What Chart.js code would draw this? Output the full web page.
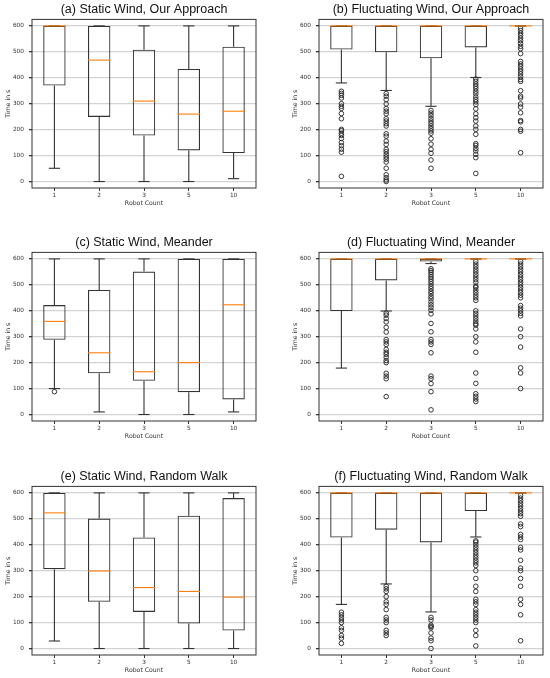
<!DOCTYPE html>
<html>
<head>
<meta charset="utf-8">
<script src="https://cdn.jsdelivr.net/npm/chart.js@4.4.1/dist/chart.umd.min.js"></script>
<style>
  body { margin: 0; background: #fff; }
  #page { position: relative; width: 550px; height: 678px; }
  canvas { position: absolute; }
</style>
</head>
<body>
<div id="page">
  <canvas id="c1" width="263" height="211" style="left:0px;top:0px"></canvas>
  <canvas id="c2" width="263" height="211" style="left:287px;top:0px"></canvas>
  <canvas id="c3" width="263" height="211" style="left:0px;top:233px"></canvas>
  <canvas id="c4" width="263" height="211" style="left:287px;top:233px"></canvas>
  <canvas id="c5" width="263" height="211" style="left:0px;top:467px"></canvas>
  <canvas id="c6" width="263" height="211" style="left:287px;top:467px"></canvas>
</div>
<script>
var robotCounts = ['1', '2', '3', '5', '10'];
var yTicks = [0, 100, 200, 300, 400, 500, 600];
var panelTitles = [
    '(a) Static Wind, Our Approach',
    '(b) Fluctuating Wind, Our Approach',
    '(c) Static Wind, Meander',
    '(d) Fluctuating Wind, Meander',
    '(e) Static Wind, Random Walk',
    '(f) Fluctuating Wind, Random Walk'
];

// [untere Antenne, Q1, Median, Q3, obere Antenne] pro Roboteranzahl
var staticOurs = [[51, 370, 600, 600, 600], [0, 249, 468, 600, 600], [0, 177, 310, 508, 600], [0, 120, 260, 434, 600], [11, 110, 271, 520, 600]];
var staticOursOut = [[], [], [], [], []];

var fluctOurs = [[380, 509, 600, 600, 600], [351, 498, 600, 600, 600], [290, 475, 600, 600, 600], [401, 517, 600, 600, 600], [600, 600, 600, 600, 600]];
var fluctOursOut = [
    [348, 340, 332, 322, 300, 290, 282, 262, 242, 201, 196, 186, 178, 166, 150, 138, 125, 113, 20],
    [339, 329, 316, 299, 281, 271, 261, 242, 233, 223, 214, 184, 175, 156, 143, 124, 115, 105, 95, 86, 75, 51, 26, 15, 6, 0],
    [274, 264, 254, 243, 233, 224, 214, 204, 195, 186, 165, 144, 124, 109, 83, 51],
    [395, 386, 376, 367, 358, 348, 338, 326, 316, 307, 297, 280, 261, 246, 233, 214, 201, 182, 146, 139, 128, 118, 105, 92, 31],
    [591, 582, 572, 563, 553, 543, 532, 521, 512, 493, 463, 453, 444, 434, 425, 415, 404, 393, 386, 350, 329, 322, 299, 287, 265, 235, 230, 201, 194, 111]
];

var staticMeander = [[100, 288, 359, 422, 600], [10, 159, 238, 480, 600], [0, 130, 165, 551, 600], [0, 86, 200, 600, 600], [10, 58, 423, 600, 600]];
var staticMeanderOut = [[88], [], [], [], []];

var fluctMeander = [[179, 399, 600, 600, 600], [399, 517, 600, 600, 600], [582, 590, 600, 600, 600], [600, 600, 600, 600, 600], [600, 600, 600, 600, 600]];
var fluctMeanderOut = [
    [],
    [391, 383, 370, 357, 336, 318, 289, 280, 270, 251, 240, 232, 221, 208, 200, 159, 148, 138, 69],
    [562, 555, 548, 539, 530, 522, 513, 504, 494, 485, 475, 466, 455, 446, 434, 423, 413, 402, 388, 351, 319, 289, 280, 270, 238, 148, 138, 119, 88, 18],
    [590, 580, 570, 560, 550, 540, 530, 520, 510, 495, 490, 480, 470, 460, 450, 440, 400, 390, 380, 370, 360, 350, 345, 330, 300, 280, 240, 160, 120, 80, 70, 60, 50],
    [590, 580, 570, 560, 550, 540, 530, 520, 510, 500, 490, 480, 470, 460, 450, 420, 410, 400, 390, 380, 330, 300, 260, 180, 160, 100]
];

var staticRandom = [[29, 306, 523, 600, 600], [0, 180, 299, 501, 600], [0, 141, 235, 428, 600], [0, 96, 220, 512, 600], [0, 69, 198, 580, 600]];
var staticRandomOut = [[], [], [], [], []];

var fluctRandom = [[170, 428, 600, 600, 600], [249, 458, 600, 600, 600], [141, 409, 600, 600, 600], [430, 530, 600, 600, 600], [600, 600, 600, 600, 600]];
var fluctRandomOut = [
    [140, 130, 120, 110, 100, 80, 70, 50, 40, 20],
    [240, 230, 220, 200, 180, 170, 150, 120, 110, 100, 70, 60, 50],
    [120, 110, 90, 85, 80, 60, 40, 30, 0],
    [415, 410, 400, 390, 380, 370, 360, 350, 340, 330, 320, 300, 270, 240, 220, 190, 180, 170, 150, 140, 130, 120, 110, 100, 70, 50, 10],
    [590, 580, 570, 560, 550, 540, 530, 520, 510, 480, 470, 440, 430, 420, 390, 380, 340, 310, 300, 270, 240, 190, 170, 130, 30]
];

var lineColor = '#333';
var tickFont = { family: 'DejaVu Sans', size: 5.8 };

function drawLine(ctx, x1, y1, x2, y2) {
    ctx.beginPath();
    ctx.moveTo(x1, y1);
    ctx.lineTo(x2, y2);
    ctx.stroke();
}

function makePanel(canvasId, title, stats, outliers) {
    // Ausreisser als Punkte (x = Kategorie-Label)
    var points = [];
    outliers.forEach(function (list, i) {
        list.forEach(function (v) {
            points.push({ x: robotCounts[i], y: v });
        });
    });

    // Antennen, Kappen, Median und Rahmen ueber die Skalen zeichnen
    var boxParts = {
        id: 'boxParts',
        afterDatasetsDraw: function (chart) {
            var ctx = chart.ctx;
            var x = chart.scales.x, y = chart.scales.y;
            var bars = chart.getDatasetMeta(0).data;
            ctx.save();
            ctx.lineWidth = 1.1;
            stats.forEach(function (s, i) {
                var cx = x.getPixelForValue(i);
                var half = bars[i].width / 2;
                var cap = half / 2;
                ctx.strokeStyle = lineColor;
                drawLine(ctx, cx, y.getPixelForValue(s[0]), cx, y.getPixelForValue(s[1]));
                drawLine(ctx, cx, y.getPixelForValue(s[3]), cx, y.getPixelForValue(s[4]));
                drawLine(ctx, cx - cap, y.getPixelForValue(s[0]), cx + cap, y.getPixelForValue(s[0]));
                drawLine(ctx, cx - cap, y.getPixelForValue(s[4]), cx + cap, y.getPixelForValue(s[4]));
                ctx.strokeStyle = '#ff7f0e';
                drawLine(ctx, cx - half, y.getPixelForValue(s[2]), cx + half, y.getPixelForValue(s[2]));
            });
            ctx.restore();
        },
        afterDraw: function (chart) {
            var a = chart.chartArea, ctx = chart.ctx;
            ctx.save();
            ctx.strokeStyle = '#333';
            ctx.lineWidth = 1;
            ctx.strokeRect(a.left, a.top, a.right - a.left, a.bottom - a.top);
            ctx.restore();
        }
    };

    return new Chart(document.getElementById(canvasId), {
        type: 'bar',
        data: {
            labels: robotCounts,
            datasets: [{
                type: 'bar',
                data: stats.map(function (s) { return [s[1], s[3]]; }),
                backgroundColor: 'rgba(0,0,0,0)',
                borderColor: lineColor,
                borderWidth: 1.1,
                borderSkipped: false,
                barPercentage: 0.5,
                categoryPercentage: 1
            }, {
                type: 'scatter',
                data: points,
                pointRadius: 2.3,
                pointBorderWidth: 0.9,
                pointBorderColor: '#222',
                pointBackgroundColor: 'rgba(0,0,0,0)'
            }]
        },
        options: {
            responsive: false,
            animation: false,
            events: [],
            layout: { padding: { left: 0, right: 7, top: 0, bottom: 0 } },
            plugins: {
                legend: { display: false },
                tooltip: { enabled: false },
                title: {
                    display: true,
                    text: title,
                    fullSize: false,
                    color: '#111',
                    font: { family: 'Liberation Sans', size: 12.5, weight: 'normal' },
                    padding: { top: 2, bottom: 2.4 }
                }
            },
            scales: {
                x: {
                    type: 'category',
                    offset: true,
                    grid: { display: true, drawOnChartArea: false, drawTicks: true, tickLength: 3, tickColor: '#333', offset: false },
                    border: { display: false },
                    ticks: { font: tickFont, color: '#333', padding: 1, maxRotation: 0 },
                    title: { display: true, text: 'Robot Count', color: '#333', font: { family: 'DejaVu Sans', size: 6.2 }, padding: { top: 0, bottom: 4 } },
                    afterFit: function (s) { s.height = 23; }
                },
                y: {
                    min: -25,
                    max: 625,
                    afterBuildTicks: function (s) {
                        s.ticks = yTicks.map(function (v) { return { value: v }; });
                    },
                    grid: { color: '#d3d3d3', lineWidth: 1.3, tickColor: '#333', tickLength: 3 },
                    border: { display: false },
                    ticks: { font: tickFont, color: '#333', padding: 5 },
                    title: { display: true, text: 'Time in s', color: '#333', font: { family: 'DejaVu Sans', size: 6.2 }, padding: { top: 5, bottom: 0 } },
                    afterFit: function (s) { s.width = 32; }
                }
            }
        },
        plugins: [boxParts]
    });
}

makePanel('c1', panelTitles[0], staticOurs, staticOursOut);
makePanel('c2', panelTitles[1], fluctOurs, fluctOursOut);
makePanel('c3', panelTitles[2], staticMeander, staticMeanderOut);
makePanel('c4', panelTitles[3], fluctMeander, fluctMeanderOut);
makePanel('c5', panelTitles[4], staticRandom, staticRandomOut);
makePanel('c6', panelTitles[5], fluctRandom, fluctRandomOut);
</script>
</body>
</html>
